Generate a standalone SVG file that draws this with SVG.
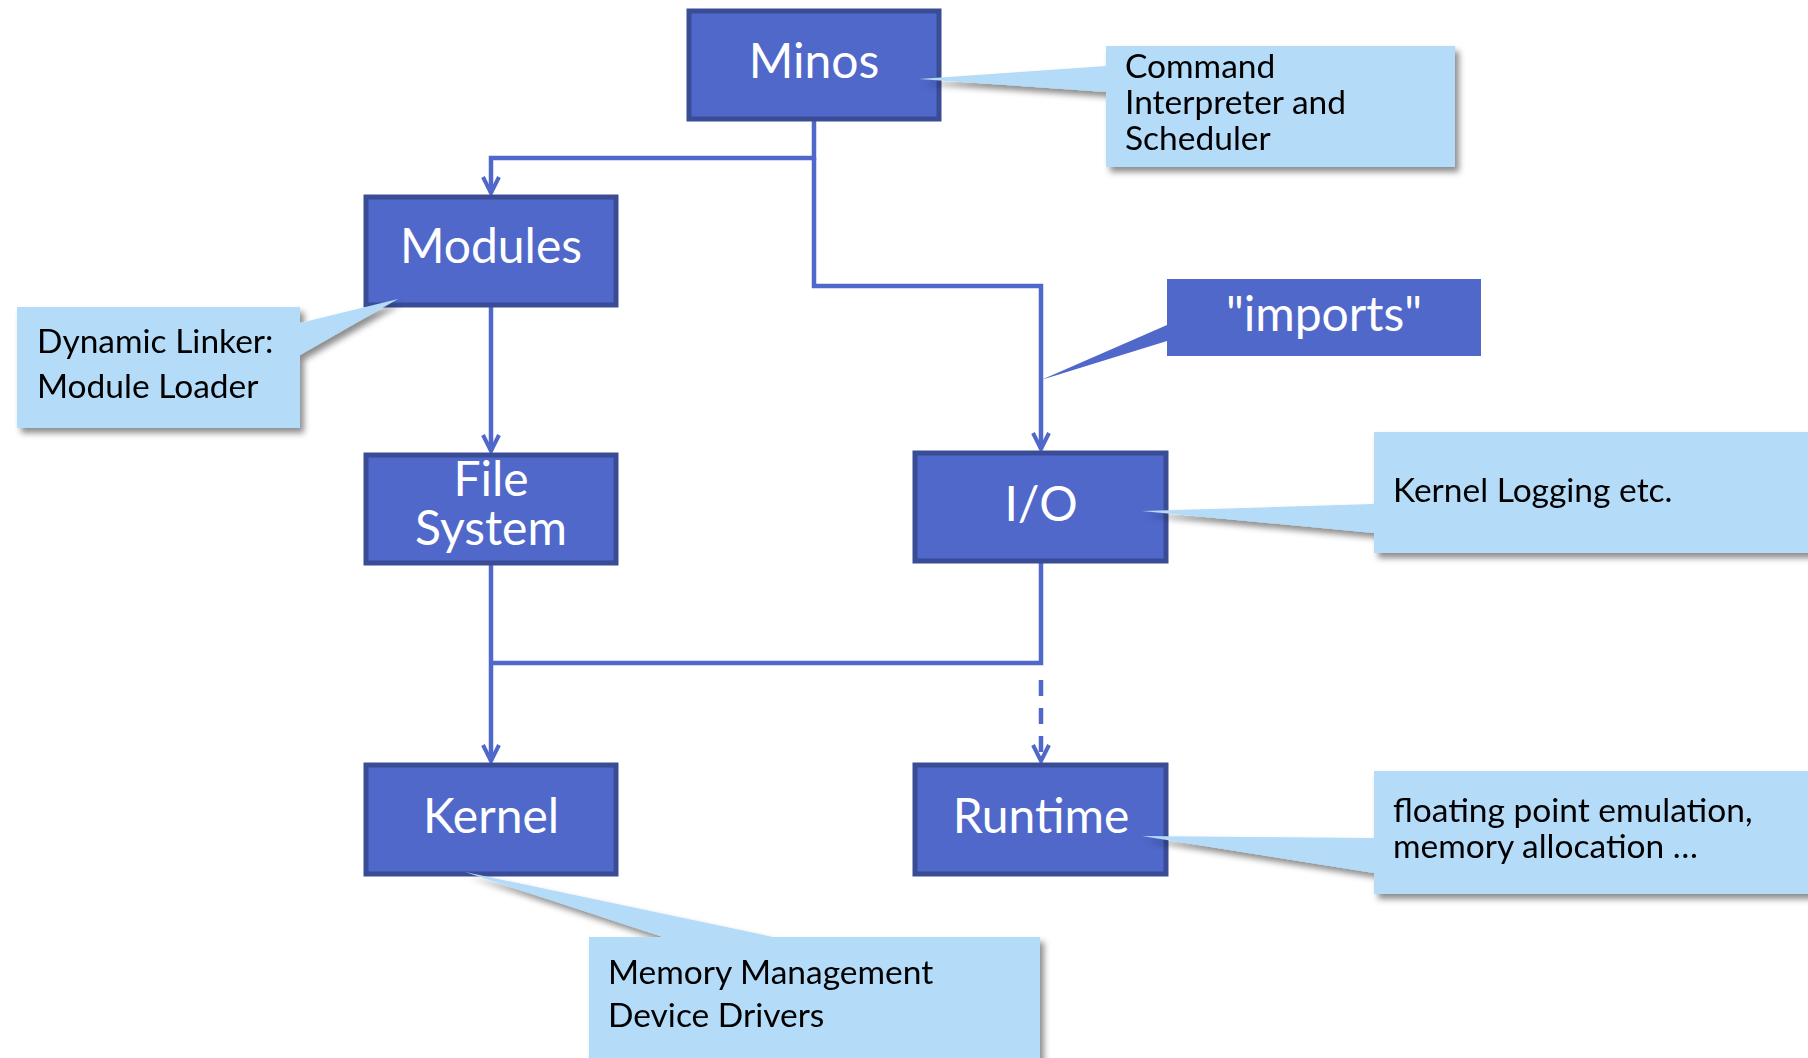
<svg xmlns="http://www.w3.org/2000/svg" width="1808" height="1058" viewBox="0 0 1808 1058">
<style>
.node{fill:#4F68C9;stroke:#3A4C96;stroke-width:5}
.nt{font-family:Lato,"Liberation Sans",sans-serif;font-size:48px;fill:#fff;text-anchor:middle}
.call{fill:#B4DBF8}
.ct{font-family:Lato,"Liberation Sans",sans-serif;font-size:33.5px;fill:#000}
.conn{fill:none;stroke:#4F68C9;stroke-width:4.5}
</style>
<defs>
<filter id="sh" x="-10%" y="-10%" width="130%" height="140%">
<feDropShadow dx="4" dy="5" stdDeviation="3" flood-color="#000" flood-opacity="0.45"/>
</filter>
<marker id="arr" markerUnits="userSpaceOnUse" viewBox="0 0 24 24" refX="21" refY="12" markerWidth="24" markerHeight="24" orient="auto">
<path d="M5,4 L21,12 L5,20" fill="none" stroke="#4F68C9" stroke-width="4"/>
</marker>
</defs>
<g id="connectors">
<path class="conn" d="M814,121 V158 H491 V193" marker-end="url(#arr)"/>
<path class="conn" d="M814,158 V286 H1041 V449" marker-end="url(#arr)"/>
<path class="conn" d="M491,307 V451" marker-end="url(#arr)"/>
<path class="conn" d="M491,565 V761" marker-end="url(#arr)"/>
<path class="conn" d="M491,663 H1041 V563"/>
<path class="conn" d="M1041,680 V761" stroke-dasharray="16,12" marker-end="url(#arr)"/>
</g>
<g id="minos">
<rect class="node" x="689" y="11" width="250" height="108"/>
<text class="nt" x="814" y="78">Minos</text>
</g>
<g id="callout-command" filter="url(#sh)">
<path class="call" d="M1106,46 H1455 V167 H1106 V92 L919,79 L1106,66 Z"/>
<text class="ct" x="1125" y="78">Command</text>
<text class="ct" x="1125" y="114">Interpreter and</text>
<text class="ct" x="1125" y="150">Scheduler</text>
</g>
<g id="modules">
<rect class="node" x="366" y="197" width="250" height="108"/>
<text class="nt" x="491" y="263">Modules</text>
</g>
<g id="callout-linker" filter="url(#sh)">
<path class="call" d="M17,307 H300 V323 L398,299 L300,355 V428 H17 Z"/>
<text class="ct" x="37" y="353">Dynamic Linker:</text>
<text class="ct" x="37" y="398">Module Loader</text>
</g>
<g id="filesystem">
<rect class="node" x="366" y="455" width="250" height="108"/>
<text class="nt" x="491" y="496">File</text>
<text class="nt" x="491" y="545">System</text>
</g>
<g id="io">
<rect class="node" x="915" y="453" width="251" height="108"/>
<text class="nt" x="1041" y="521">I/O</text>
</g>
<g id="imports">
<path fill="#4F68C9" d="M1167,279 H1481 V356 H1167 V341 L1041,380 L1167,325 Z"/>
<text class="nt" x="1324" y="331">"imports"</text>
</g>
<g id="callout-logging" filter="url(#sh)">
<path class="call" d="M1374,432 H1812 V553 H1374 V533 L1142,511 L1374,504 Z"/>
<text class="ct" x="1393" y="502">Kernel Logging etc.</text>
</g>
<g id="kernel">
<rect class="node" x="366" y="765" width="250" height="109"/>
<text class="nt" x="491" y="833">Kernel</text>
</g>
<g id="runtime">
<rect class="node" x="915" y="765" width="251" height="109"/>
<text class="nt" x="1041" y="833">Runtime</text>
</g>
<g id="callout-memory" filter="url(#sh)">
<path class="call" d="M589,937 H663 L465,872 L773,937 H1040 V1070 H589 Z"/>
<text class="ct" x="608" y="984">Memory Management</text>
<text class="ct" x="608" y="1027">Device Drivers</text>
</g>
<g id="callout-runtime" filter="url(#sh)">
<path class="call" d="M1374,771 H1812 V894 H1374 V873 L1142,836 L1374,838 Z"/>
<text class="ct" x="1393" y="822">floating point emulation,</text>
<text class="ct" x="1393" y="858">memory allocation …</text>
</g>
</svg>
